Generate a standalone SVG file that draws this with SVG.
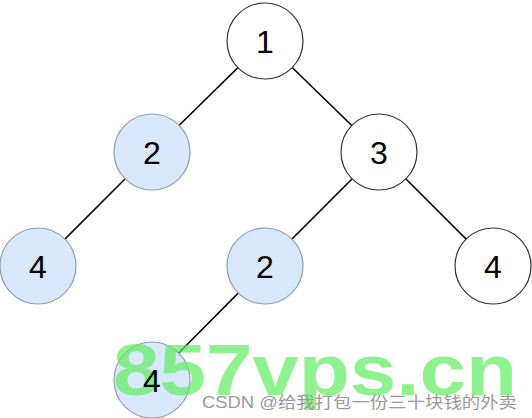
<svg xmlns="http://www.w3.org/2000/svg" width="532" height="418" viewBox="0 0 532 418">
<style>
.n{stroke-width:1.2}
.w{fill:#ffffff;stroke:#333333}
.b{fill:#dae8fc;stroke:#8d9db5}
.t{font-family:"Liberation Sans",Arial,sans-serif;font-size:32px;fill:#000;text-anchor:middle;dominant-baseline:central}
.e{stroke:#000;stroke-width:1.6;fill:none}
</style>
<rect width="532" height="418" fill="#ffffff"/>
<g id="edges">
<line class="e" x1="265" y1="41" x2="152" y2="152"/>
<line class="e" x1="265" y1="41" x2="379" y2="152"/>
<line class="e" x1="152" y1="152" x2="38" y2="266"/>
<line class="e" x1="379" y1="152" x2="265" y2="266"/>
<line class="e" x1="379" y1="152" x2="493" y2="266"/>
<line class="e" x1="265" y1="266" x2="152" y2="380"/>
</g>
<g id="node1"><circle class="n w" cx="265" cy="41" r="38"/><text class="t" x="265" y="42">1</text></g>
<g id="node2a"><circle class="n b" cx="152" cy="152" r="38"/><text class="t" x="152" y="153">2</text></g>
<g id="node3"><circle class="n w" cx="379" cy="152" r="38"/><text class="t" x="379" y="153">3</text></g>
<g id="node4a"><circle class="n b" cx="38" cy="266" r="38"/><text class="t" x="38" y="267">4</text></g>
<g id="node2b"><circle class="n b" cx="265" cy="266" r="38"/><text class="t" x="265" y="267">2</text></g>
<g id="node4b"><circle class="n w" cx="493" cy="266" r="38"/><text class="t" x="493" y="267">4</text></g>
<g id="node4c"><circle class="n b" cx="152" cy="380" r="38"/></g>
<text x="113" y="395" font-family="'Liberation Sans',Arial,sans-serif" font-weight="bold" font-size="72" fill="#5eec5e" fill-opacity="0.7" textLength="404" lengthAdjust="spacingAndGlyphs">857vps.cn</text>
<text class="t" x="152" y="381">4</text>
<text x="202" y="408" font-family="'Liberation Sans','Noto Sans CJK SC',sans-serif" font-size="16" fill="#999999" textLength="315" lengthAdjust="spacingAndGlyphs">CSDN @给我打包一份三十块钱的外卖</text>
</svg>
